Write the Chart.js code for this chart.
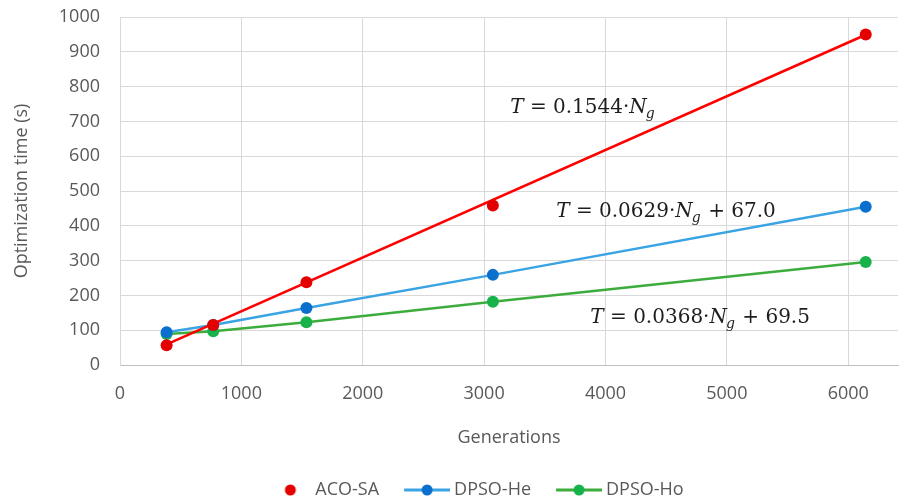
<!DOCTYPE html>
<html>
<head>
<meta charset="utf-8">
<script src="https://cdn.jsdelivr.net/npm/chart.js@4/dist/chart.umd.min.js"></script>
<style>
    body { margin: 0; background: #fff; }
</style>
</head>
<body>
<canvas id="timeChart" width="904" height="504"></canvas>
<script>
// values
const generations = [384, 768, 1536, 3072, 6144];
const acoSa = [57, 115, 238, 458, 950];
const dpsoHe = [94, 115, 164, 259, 455];
const dpsoHo = [89, 97, 123, 182, 296];
const acoTrendX = [384, 6144];
const acoTrendY = [59, 949];
const xTicks = [0, 1000, 2000, 3000, 4000, 5000, 6000];
const yTicks = [0, 100, 200, 300, 400, 500, 600, 700, 800, 900, 1000];
const eqX = [3215, 3594, 3875];
const eqY = [724, 425, 121];
const eqText = ['T = 0.1544·N_g', 'T = 0.0629·N_g + 67.0', 'T = 0.0368·N_g + 69.5'];

const grey = '#595959';
const gridColor = '#d9d9d9';

function pts(xs, ys) {
    return xs.map((x, i) => ({ x: x, y: ys[i] }));
}

// legend symbols: small canvases with line + dot
function legendIcon(lineColor, dotColor) {
    const c = document.createElement('canvas');
    c.width = 74;
    c.height = 14;
    const g = c.getContext('2d');
    if (lineColor) {
        g.strokeStyle = lineColor;
        g.lineWidth = 3;
        g.beginPath();
        g.moveTo(28, 7);
        g.lineTo(74, 7);
        g.stroke();
    }
    g.fillStyle = dotColor;
    g.beginPath();
    g.arc(lineColor ? 51 : 53, 7, 5.5, 0, Math.PI * 2);
    g.fill();
    return c;
}
const icons = [
    legendIcon(null, '#e50000'),
    legendIcon('#3aa3e3', '#0b6fce'),
    legendIcon('#3cad3c', '#17b34a')
];

// equation labels placed in data coordinates
const equationPlugin = {
    id: 'equations',
    afterLayout(chart) {
        // nudge legend row a bit to the right, like the original
        chart.legend.left += 11;
        chart.legend.right += 11;
    },
    afterDatasetsDraw(chart) {
        const ctx = chart.ctx;
        const xs = chart.scales.x, ys = chart.scales.y;
        ctx.save();
        ctx.fillStyle = '#1e1e1e';
        ctx.textBaseline = 'alphabetic';
        eqText.forEach((txt, i) => {
            let px = xs.getPixelForValue(eqX[i]);
            const py = ys.getPixelForValue(eqY[i]);
            const parts = txt.split(/(T|N_g)/).filter(s => s.length);
            parts.forEach(p => {
                if (p === 'T') {
                    ctx.font = 'italic 20px "DejaVu Serif"';
                    ctx.fillText('T', px, py);
                    px += ctx.measureText('T').width;
                } else if (p === 'N_g') {
                    ctx.font = 'italic 20px "DejaVu Serif"';
                    ctx.fillText('N', px, py);
                    px += ctx.measureText('N').width;
                    ctx.font = 'italic 14px "DejaVu Serif"';
                    ctx.fillText('g', px - 1, py + 5);
                    px += ctx.measureText('g').width;
                } else {
                    ctx.font = '20px "DejaVu Serif"';
                    ctx.fillText(p, px, py);
                    px += ctx.measureText(p).width;
                }
            });
        });
        ctx.restore();
    }
};

const ctx = document.getElementById('timeChart').getContext('2d');
const timeChart = new Chart(ctx, {
    type: 'scatter',
    data: {
        datasets: [{
            label: 'ACO-SA',
            data: pts(generations, acoSa),
            showLine: false,
            backgroundColor: '#e50000',
            borderColor: '#e50000',
            pointRadius: 6,
            pointBorderWidth: 0,
            order: 0
        }, {
            label: 'DPSO-He',
            data: pts(generations, dpsoHe),
            showLine: true,
            borderColor: '#3aa3e3',
            borderWidth: 2.5,
            backgroundColor: '#0b6fce',
            pointBackgroundColor: '#0b6fce',
            pointBorderWidth: 0,
            pointRadius: 6,
            order: 2
        }, {
            label: 'DPSO-Ho',
            data: pts(generations, dpsoHo),
            showLine: true,
            borderColor: '#3cad3c',
            borderWidth: 2.5,
            backgroundColor: '#17b34a',
            pointBackgroundColor: '#17b34a',
            pointBorderWidth: 0,
            pointRadius: 6,
            order: 3
        }, {
            label: 'trend',
            data: pts(acoTrendX, acoTrendY),
            showLine: true,
            borderColor: '#ff0000',
            borderWidth: 2.5,
            pointRadius: 0,
            order: 1
        }]
    },
    options: {
        responsive: false,
        animation: false,
        layout: { padding: { top: 0, left: 0, right: 0, bottom: -5 } },
        font: { family: '"Open Sans"' },
        scales: {
            x: {
                type: 'linear',
                min: 0,
                max: 6410,
                afterBuildTicks(scale) {
                    scale.ticks = xTicks.map(v => ({ value: v }));
                },
                afterFit(scale) { scale.height = 114; },
                grid: { color: gridColor, drawTicks: false },
                border: { color: '#bfbfbf', width: 1 },
                ticks: {
                    color: grey, padding: 18, font: { size: 18, family: '"Open Sans"' },
                    callback: v => String(v)
                },
                title: {
                    display: true,
                    text: 'Generations',
                    color: grey,
                    font: { size: 18, family: '"Open Sans"' },
                    padding: { top: 0, bottom: 30 }
                }
            },
            y: {
                min: 0,
                max: 1000,
                afterBuildTicks(scale) {
                    scale.ticks = yTicks.map(v => ({ value: v }));
                },
                afterFit(scale) {
                    scale.width = 120;
                    scale.paddingTop = 17;
                    scale.paddingBottom = 0;
                },
                grid: { color: gridColor, drawTicks: false },
                border: { color: gridColor, width: 1 },
                ticks: {
                    color: grey, padding: 20, font: { size: 18, family: '"Open Sans"' },
                    callback: v => String(v)
                },
                title: {
                    display: true,
                    text: 'Optimization time (s)',
                    color: grey,
                    font: { size: 18, family: '"Open Sans"' },
                    padding: { top: 11, bottom: 0 }
                }
            }
        },
        plugins: {
            tooltip: { enabled: false },
            legend: {
                position: 'bottom',
                labels: {
                    usePointStyle: true,
                    pointStyleWidth: 64,
                    padding: 2,
                    color: grey,
                    font: { size: 18, family: '"Open Sans"' },
                    filter: item => item.datasetIndex !== 3,
                    generateLabels(chart) {
                        const items = Chart.defaults.plugins.legend.labels.generateLabels(chart);
                        items.forEach(it => {
                            if (icons[it.datasetIndex]) it.pointStyle = icons[it.datasetIndex];
                        });
                        return items;
                    }
                }
            }
        }
    },
    plugins: [equationPlugin]
});
</script>
</body>
</html>
